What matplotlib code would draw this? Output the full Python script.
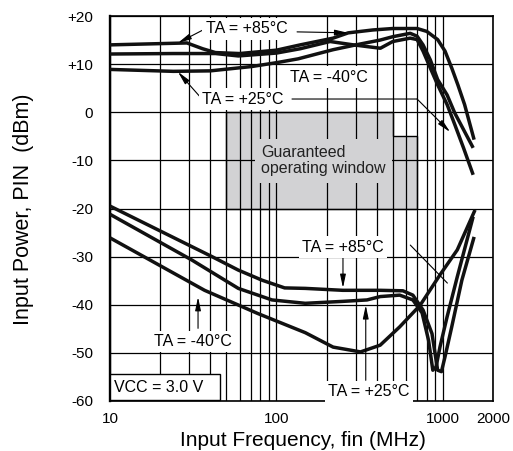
import matplotlib
matplotlib.use('Agg')
import matplotlib.pyplot as plt
from matplotlib.patches import Rectangle
from matplotlib.ticker import LogLocator, NullFormatter

plt.rcParams['font.family'] = ['Liberation Sans', 'DejaVu Sans']

# ---------------- data ----------------
# Upper curves: maximum input power
up85_f = [10, 29, 36, 43, 60, 100, 139, 219, 270, 380, 500, 700, 800, 930, 1030, 1130, 1230, 1350, 1540]
up85_p = [14.0, 14.4, 13.2, 12.4, 12.2, 12.9, 14.0, 15.4, 16.5, 17.1, 17.4, 17.4, 16.8, 15.1, 12.7, 9.2, 5.7, 1.6, -5.7]

up40_f = [10, 24, 43, 59, 100, 139, 210, 290, 421, 500, 636, 700, 760, 840, 930, 1060, 1180, 1330, 1520]
up40_p = [12.1, 12.2, 12.2, 11.7, 12.3, 13.2, 14.7, 14.0, 13.3, 14.7, 15.4, 15.1, 12.7, 9.2, 5.7, 1.6, -2.6, -7.4, -13.0]

up25_f = [10, 24, 40, 71, 100, 135, 219, 300, 420, 500, 636, 700, 760, 840, 930, 1060, 1180, 1330, 1520]
up25_p = [8.9, 8.5, 8.6, 9.5, 10.3, 11.1, 13.0, 14.0, 15.0, 15.7, 16.4, 15.8, 14.0, 10.9, 6.8, 3.6, -0.2, -3.6, -7.4]

# Lower curves: sensitivity
lo85_f = [10, 41, 59, 82, 112, 149, 250, 420, 575, 660, 760, 860, 930, 980, 1030, 1130, 1300, 1540]
lo85_p = [-19.5, -30.0, -32.8, -34.9, -36.5, -36.6, -37.0, -37.0, -37.1, -38.0, -41.1, -46.0, -53.6, -53.9, -50.8, -44.6, -34.9, -25.9]

lo25_f = [10, 31, 59, 94, 149, 250, 350, 420, 550, 660, 750, 820, 870, 910, 960, 1060, 1220, 1520]
lo25_p = [-21.2, -30.7, -36.6, -39.0, -39.7, -39.3, -39.0, -38.3, -38.0, -39.0, -41.7, -47.4, -53.6, -52.9, -48.8, -42.5, -34.2, -21.7]

lo40_f = [10, 37, 77, 149, 219, 320, 420, 550, 730, 960, 1220, 1560]
lo40_p = [-26.1, -37.0, -41.8, -45.8, -48.8, -49.8, -48.4, -44.6, -40.1, -33.8, -28.6, -20.3]

# Guaranteed operating window outline
window_f = [50, 50, 500, 500, 700, 700]
window_p = [-20, 0, 0, -5, -5, -20]

# Axis ticks
xticks = [10, 100, 1000, 2000]
xticklabels = ['10', '100', '1000', '2000']
yticks = [20, 10, 0, -10, -20, -30, -40, -50, -60]
yticklabels = ['+20', '+10', '0', '-10', '-20', '-30', '-40', '-50', '-60']

# ---------------- figure ----------------
fig = plt.figure(figsize=(5.13, 4.51), dpi=100)
ax = fig.add_axes([110 / 513, 1 - 401 / 451, 383 / 513, 385 / 451])
ax.set_xscale('log')
ax.set_xlim(10, 2000)
ax.set_ylim(-60, 20)

ax.set_xticks(xticks)
ax.set_xticklabels(xticklabels)
ax.xaxis.set_minor_locator(LogLocator(base=10, subs=range(2, 10), numticks=30))
ax.xaxis.set_minor_formatter(NullFormatter())
ax.set_yticks(yticks)
ax.set_yticklabels(yticklabels)
ax.tick_params(which='both', length=0, labelsize=11)
ax.tick_params(axis='y', pad=12)
ax.tick_params(axis='x', pad=8)

ax.set_axisbelow(True)
ax.grid(which='both', color='black', lw=0.9)
for s in ax.spines.values():
    s.set_linewidth(1.2)
    s.set_color('black')
ax.spines['left'].set_linewidth(1.7)

# window
ax.fill(window_f, window_p, facecolor='#d2d2d4', edgecolor='black', lw=1.0, zorder=0.3)

lw = 2.5
for f, p in [(up85_f, up85_p), (up40_f, up40_p), (up25_f, up25_p),
             (lo85_f, lo85_p), (lo25_f, lo25_p), (lo40_f, lo40_p)]:
    ax.plot(f, p, color='#111111', lw=lw, solid_capstyle='butt', solid_joinstyle='round', zorder=3)

# labels
box = dict(boxstyle='square,pad=0.2', facecolor='white', edgecolor='none')
lab_fs = 11.5
labels = [
    ('TA = +85°C', 66.1, 17.3),
    ('TA = -40°C', 207, 7.3),
    ('TA = +25°C', 63.1, 2.75),
    ('TA = +85°C', 251, -28.0),
    ('TA = -40°C', 31.7, -47.6),
    ('TA = +25°C', 360, -58.0),
]
for t, f, p in labels:
    ax.text(f, p, t, ha='center', va='center', fontsize=lab_fs, bbox=box, zorder=6, clip_on=False)

ax.text(80.8, -10.1, 'Guaranteed\noperating window', ha='left', va='center', fontsize=lab_fs,
        color='#222222', linespacing=1.1,
        bbox=dict(boxstyle='square,pad=0.4', facecolor='#d2d2d4', edgecolor='none'), zorder=2.5)

# Vcc box
ax.add_patch(Rectangle((10, -59.8), 35.8, 5.4, facecolor='white', edgecolor='black', lw=1.0, zorder=6,
                       clip_on=False))
ax.text(10.5, -57.2, 'VCC = 3.0 V', ha='left', va='center', fontsize=lab_fs, zorder=7)

# leader lines / arrows
arr = dict(arrowstyle='-|>,head_length=0.8,head_width=0.17', color='black', lw=0.8,
           shrinkA=0, shrinkB=0)
line = dict(arrowstyle='-', color='black', lw=0.8, shrinkA=0, shrinkB=0)
arrows = [
    ((36.2, 17.1), (25.6, 14.4)),
    ((133, 16.7), (270, 16.5)),
    ((35.7, 2.75), (25.6, 8.4)),
    ((700, 2.75), (1105, -4.1)),
    ((251, -30.1), (251, -36.5)),
    ((33.8, -44.9), (33.8, -38.4)),
    ((344, -55.7), (344, -40.1)),
]
for (f0, p0), (f1, p1) in arrows:
    ax.annotate('', xy=(f1, p1), xytext=(f0, p0), arrowprops=arr, zorder=5)
ax.annotate('', xy=(700, 2.75), xytext=(124, 2.75), arrowprops=line, zorder=5)
ax.annotate('', xy=(1064, -35.5), xytext=(637, -27.6), arrowprops=line, zorder=5)

# axis labels
fig.text(303 / 513, 1 - 446 / 451, 'Input Frequency, fin (MHz)', ha='center', va='baseline', fontsize=15)
fig.text(24 / 513, 1 - 209 / 451, 'Input Power, PIN  (dBm)', ha='center', va='center', rotation=90,
         fontsize=15.5)

fig.savefig('out.png', dpi=100)
